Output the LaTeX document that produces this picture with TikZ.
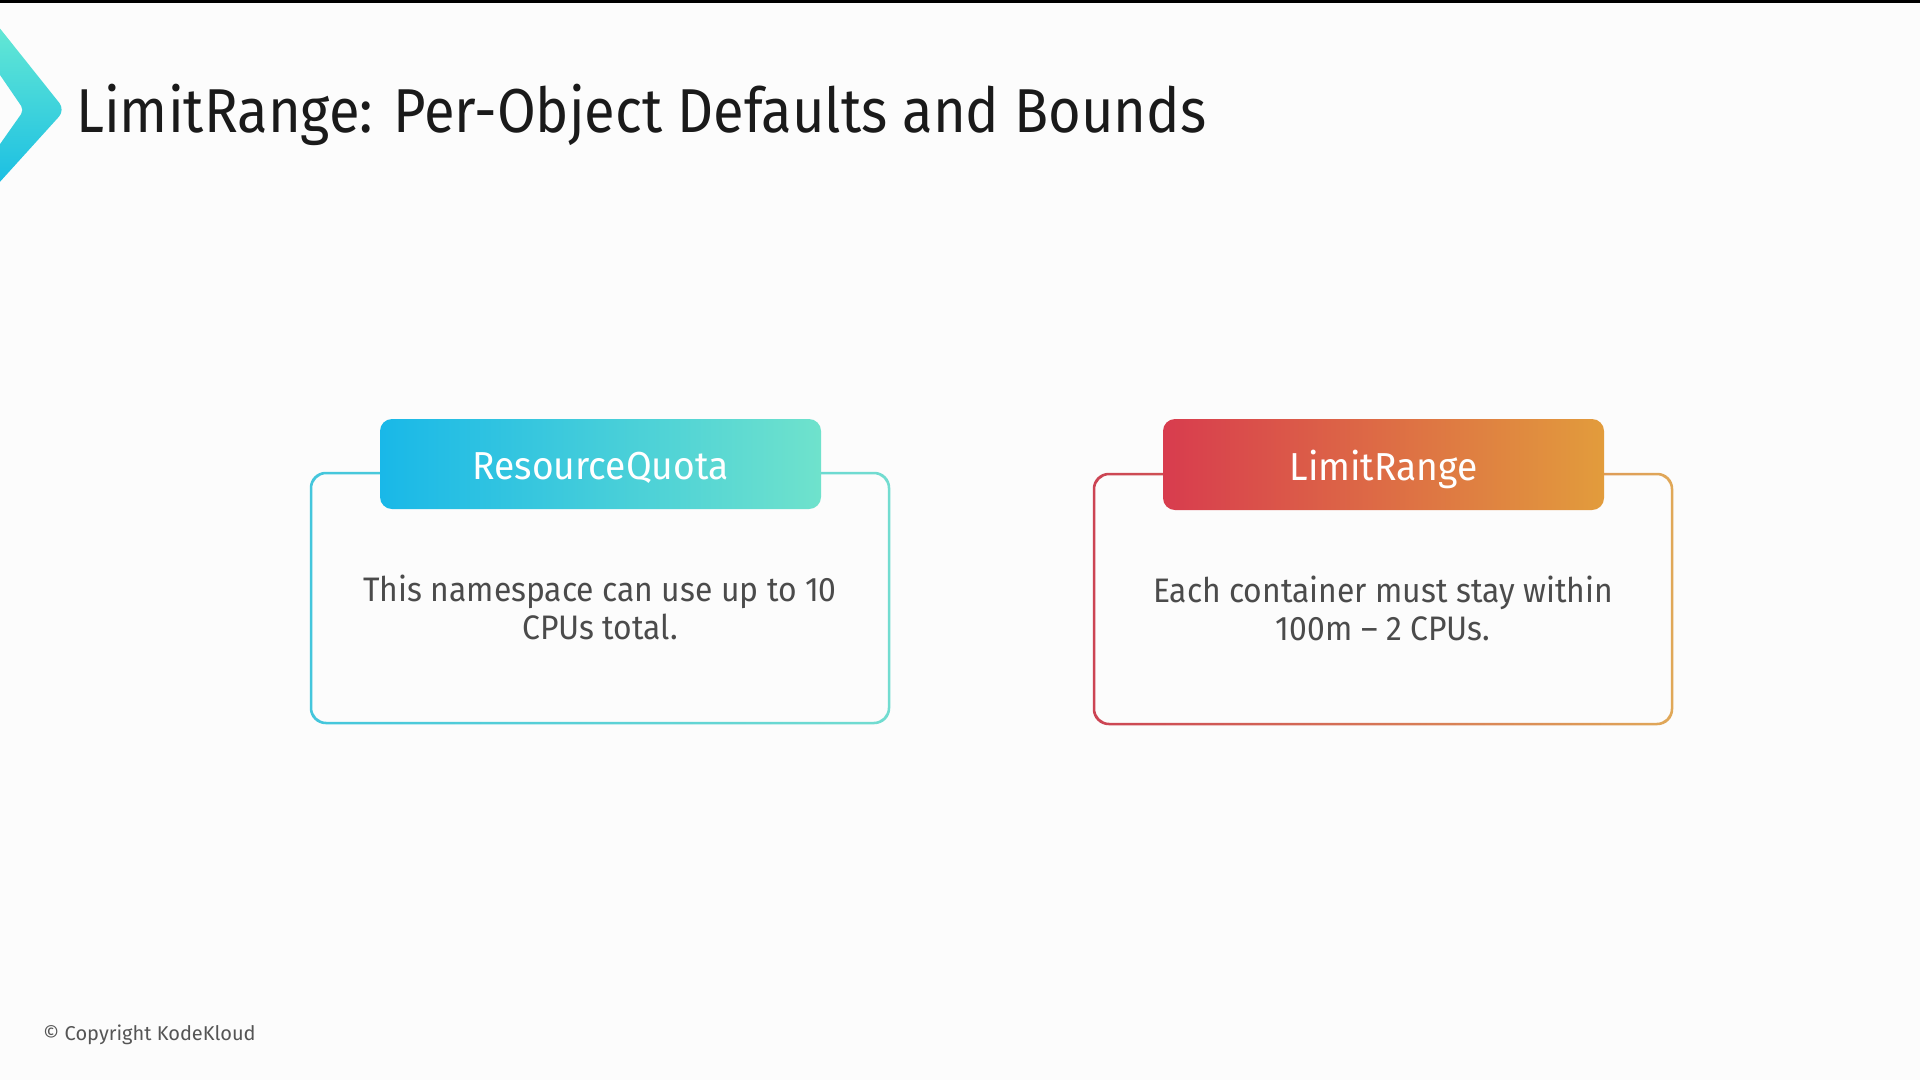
\documentclass[tikz,border=0pt]{standalone}
\usepackage{fontspec}
\setmainfont{Fira Sans}
\newfontfamily\titlefont[FakeStretch=0.905]{Fira Sans}
\newfontfamily\headfont[FakeStretch=0.954]{Fira Sans}
\newfontfamily\bodyfont[FakeStretch=0.937]{Fira Sans}
\usetikzlibrary{calc}
\definecolor{titlec}{HTML}{1A1A1A}
\definecolor{bodyc}{HTML}{4B4B4B}
\definecolor{copyc}{HTML}{555555}
\definecolor{chevtop}{HTML}{64E8D4}
\definecolor{chevbot}{HTML}{1BBFE3}
\definecolor{rqhl}{HTML}{19B8E8}
\definecolor{rqhr}{HTML}{6FE2CC}
\definecolor{rqbl}{HTML}{44C6DC}
\definecolor{rqbr}{HTML}{72DCD0}
\definecolor{lrhl}{HTML}{D83C4E}
\definecolor{lrhr}{HTML}{E29C3C}
\definecolor{lrbl}{HTML}{CC4454}
\definecolor{lrbr}{HTML}{E0A858}
\tikzset{
  headtext/.style={text=white, font=\headfont\fontsize{39}{44}\selectfont, inner sep=0pt},
  bodytext/.style={text=bodyc, font=\bodyfont\fontsize{34}{38}\selectfont, align=center, inner sep=0pt},
}
\begin{document}
\begin{tikzpicture}[x=1pt,y=-1pt]
\useasboundingbox (0,0) rectangle (1920,1080);
\fill[white!99!black] (0,0) rectangle (1920,1080);
\fill[black] (0,0) rectangle (1920,3);
% chevron
\shade[top color=chevtop, bottom color=chevbot]
  (-2,26) [rounded corners=9] -- (65,110) [sharp corners] -- (-2,184) -- (-2,147) [rounded corners=5] -- (24,110) [sharp corners] -- (-2,72) -- cycle;
% title
\node[anchor=base west, inner sep=0pt, text=titlec, font=\titlefont\fontsize{62}{70}\selectfont] (title) at (76,132) {LimitRange: Per-Object Defaults and Bounds};
% left card
\path[left color=rqbl, right color=rqbr, even odd rule]
  [rounded corners=16] (309.75,471.75) rectangle (890.25,724.25)
  [rounded corners=14] (312.25,474.25) rectangle (887.75,721.75);
\shade[left color=rqhl, right color=rqhr, rounded corners=12] (380,419) rectangle (821,509);
\node[headtext] (rqhead) at (600.5,468) {ResourceQuota};
\node[bodytext] (rqbody) at (600,607.5) {This namespace can use up to 10\\CPUs total.};
% right card
\path[left color=lrbl, right color=lrbr, even odd rule]
  [rounded corners=16] (1092.75,472.75) rectangle (1673.25,725.25)
  [rounded corners=14] (1095.25,475.25) rectangle (1670.75,722.75);
\shade[left color=lrhl, right color=lrhr, rounded corners=12] (1163,419) rectangle (1604,510);
\node[headtext] (lrhead) at (1383.5,469) {LimitRange};
\node[bodytext] (lrbody) at (1383,608.5) {Each container must stay within\\100m – 2 CPUs.};
% copyright
\node[anchor=west, inner sep=0pt, text=copyc, font=\fontsize{20}{23}\selectfont] (copy) at (43,1035) {© Copyright KodeKloud};
\end{tikzpicture}
\end{document}
